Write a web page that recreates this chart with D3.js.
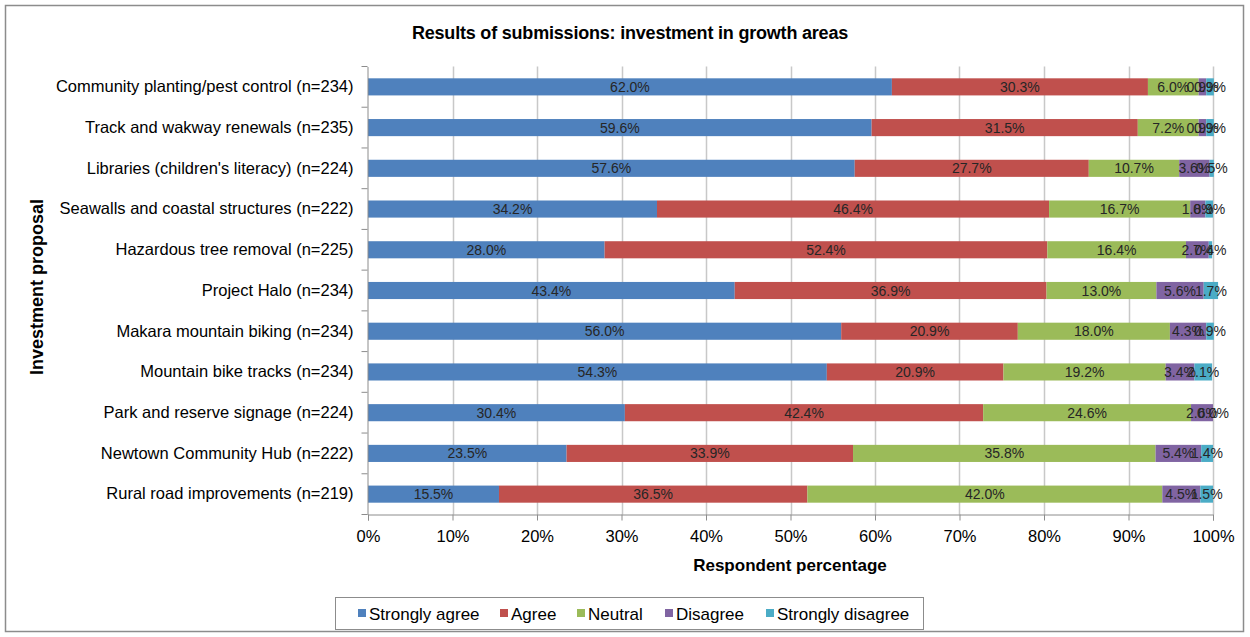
<!DOCTYPE html>
<html>
<head>
<title>investment in growth areas</title>
<script src="https://cdnjs.cloudflare.com/ajax/libs/d3/7.8.5/d3.min.js"></script>
<style>
  body { margin:0; background:#fff; }
  svg text { font-family: "Liberation Sans", Arial, sans-serif; }
</style>
</head>
<body>
<svg width="1250" height="637"></svg>
<script>
var categories = [
  "Community planting/pest control (n=234)",
  "Track and wakway renewals (n=235)",
  "Libraries (children's literacy) (n=224)",
  "Seawalls and coastal structures (n=222)",
  "Hazardous tree removal (n=225)",
  "Project Halo (n=234)",
  "Makara mountain biking (n=234)",
  "Mountain bike tracks (n=234)",
  "Park and reserve signage (n=224)",
  "Newtown Community Hub (n=222)",
  "Rural road improvements (n=219)"
];
var seriesNames = ["Strongly agree", "Agree", "Neutral", "Disagree", "Strongly disagree"];
var stronglyAgree    = [62.0, 59.6, 57.6, 34.2, 28.0, 43.4, 56.0, 54.3, 30.4, 23.5, 15.5];
var agree            = [30.3, 31.5, 27.7, 46.4, 52.4, 36.9, 20.9, 20.9, 42.4, 33.9, 36.5];
var neutral          = [6.0, 7.2, 10.7, 16.7, 16.4, 13.0, 18.0, 19.2, 24.6, 35.8, 42.0];
var disagree         = [0.9, 0.9, 3.6, 1.8, 2.7, 5.6, 4.3, 3.4, 2.6, 5.4, 4.5];
var stronglyDisagree = [0.9, 0.9, 0.5, 0.9, 0.4, 1.7, 0.9, 2.1, 0.0, 1.4, 1.5];
var xTicks = [0, 10, 20, 30, 40, 50, 60, 70, 80, 90, 100];
var colors = ["#4F81BD", "#C0504D", "#9BBB59", "#8064A2", "#4BACC6"];

var seriesValues = [stronglyAgree, agree, neutral, disagree, stronglyDisagree];
var rows = categories.map(function(c, i) {
  var r = {cat: c};
  seriesNames.forEach(function(s, j) { r[s] = seriesValues[j][i]; });
  return r;
});
var stacked = d3.stack().keys(seriesNames)(rows);

var svg = d3.select("svg");
svg.append("rect").attr("x", 5.5).attr("y", 5.5).attr("width", 1238).attr("height", 626)
  .attr("fill", "#fff").attr("stroke", "#8c8c8c").attr("stroke-width", 1.5);

var plotL = 368, plotR = 1213, plotT = 66.5, plotB = 514.5;
var x = d3.scaleLinear().domain([0, 100]).range([plotL, plotR]);
var y = d3.scaleBand().domain(categories).range([plotT, plotB]).paddingInner(0.58).paddingOuter(0.29);

svg.append("text").attr("x", 630).attr("y", 39).attr("text-anchor", "middle")
  .attr("font-size", 18).attr("font-weight", "bold").attr("fill", "#000")
  .attr("letter-spacing", -0.2)
  .text("Results of submissions: investment in growth areas");

// gridlines
svg.append("g").selectAll("line").data(xTicks.slice(1)).enter().append("line")
  .attr("x1", function(d) { return Math.round(x(d)) + 0.5; })
  .attr("x2", function(d) { return Math.round(x(d)) + 0.5; })
  .attr("y1", plotT).attr("y2", plotB)
  .attr("stroke", "#c8c8c8").attr("stroke-width", 1.5);

// bars
var g = svg.append("g");
stacked.forEach(function(layer, j) {
  g.selectAll(".b" + j).data(layer).enter().append("rect")
    .attr("x", function(d) { return x(d[0]); })
    .attr("width", function(d) { return Math.max(0, x(d[1]) - x(d[0])); })
    .attr("y", function(d) { return y(d.data.cat); })
    .attr("height", y.bandwidth())
    .attr("fill", colors[j]);
});
stacked.forEach(function(layer, j) {
  g.selectAll(".t" + j).data(layer).enter().append("text")
    .attr("x", function(d) { return (x(d[0]) + x(d[1])) / 2; })
    .attr("y", function(d) { return y(d.data.cat) + y.bandwidth() / 2 + 5; })
    .attr("text-anchor", "middle").attr("font-size", 14).attr("fill", "#262626")
    .text(function(d) { return (d[1] - d[0]).toFixed(1) + "%"; });
});

// y axis
var yAxis = svg.append("g").attr("transform", "translate(" + (plotL - 0.5) + ",0)")
  .call(d3.axisLeft(y).tickSize(0).tickPadding(14));
yAxis.select(".domain").attr("stroke", "#8c8c8c");
yAxis.selectAll("text").attr("font-size", 16.5).attr("fill", "#000");
var bounds = d3.range(categories.length + 1).map(function(i) { return plotT + i * y.step(); });
yAxis.selectAll(".bt").data(bounds).enter().append("line")
  .attr("x1", -6).attr("x2", 0)
  .attr("y1", function(d) { return d; }).attr("y2", function(d) { return d; })
  .attr("stroke", "#8c8c8c");

// x axis
var xAxis = svg.append("g").attr("transform", "translate(0," + plotB + ")")
  .call(d3.axisBottom(x).tickValues(xTicks).tickSize(6).tickPadding(10)
    .tickFormat(function(d) { return d + "%"; }));
xAxis.select(".domain").attr("stroke", "#8c8c8c");
xAxis.selectAll("line").attr("stroke", "#8c8c8c");
xAxis.selectAll("text").attr("font-size", 16.5).attr("fill", "#000");

svg.append("text").attr("x", 790).attr("y", 571).attr("text-anchor", "middle")
  .attr("font-size", 17).attr("font-weight", "bold").text("Respondent percentage");
svg.append("text").attr("transform", "translate(43,287) rotate(-90)").attr("text-anchor", "middle")
  .attr("font-size", 18).attr("font-weight", "bold").text("Investment proposal");

// legend
var lg = svg.append("g");
lg.append("rect").attr("x", 335.5).attr("y", 597.5).attr("width", 588).attr("height", 32)
  .attr("fill", "#fff").attr("stroke", "#8c8c8c");
var legX = [358, 500, 577, 665, 766];
seriesNames.forEach(function(s, j) {
  lg.append("rect").attr("x", legX[j]).attr("y", 609).attr("width", 8).attr("height", 8).attr("fill", colors[j]);
  lg.append("text").attr("x", legX[j] + 11).attr("y", 620).attr("font-size", 17).text(s);
});
</script>
</body>
</html>
